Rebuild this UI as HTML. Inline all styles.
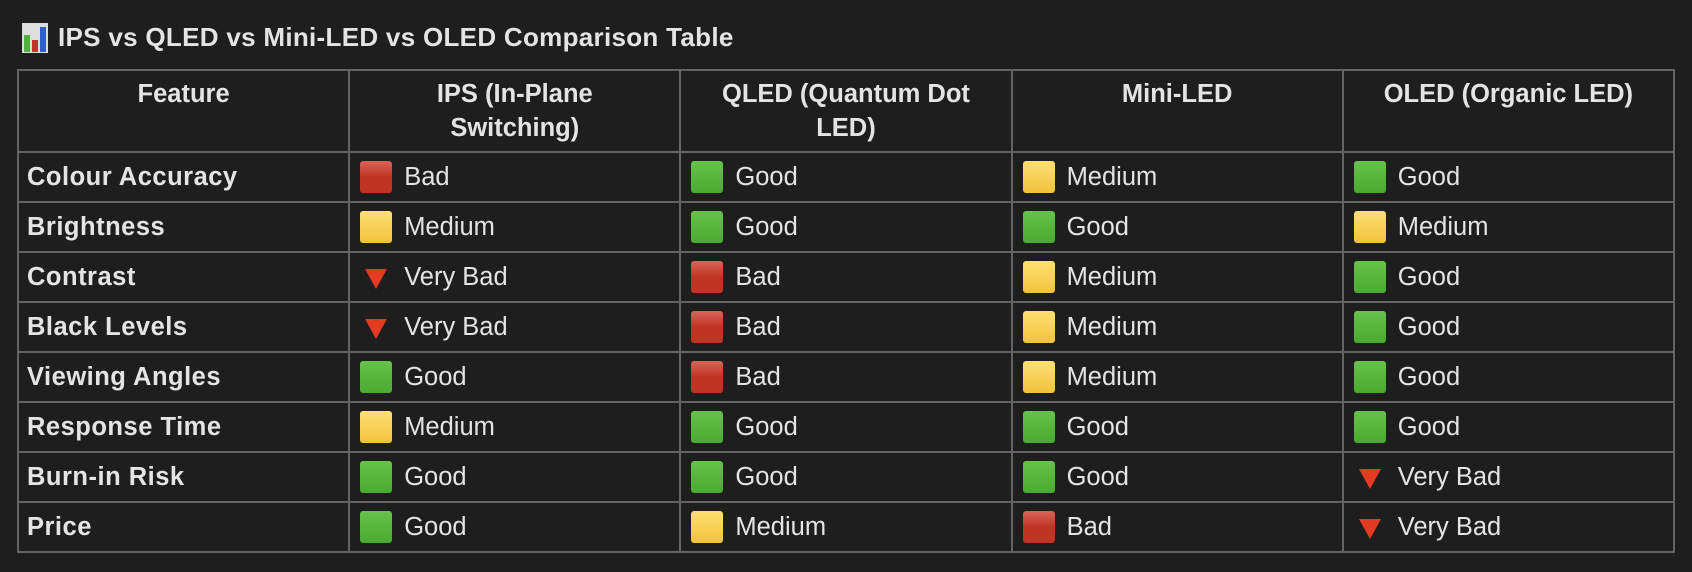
<!DOCTYPE html>
<html><head><style>
body{margin:0;background:#1e1e1e;width:1692px;height:572px;overflow:hidden;font-family:"Liberation Sans",sans-serif;color:#e4e4e4}
.title{position:absolute;left:22px;top:22px;font-size:26px;font-weight:bold;display:flex;align-items:center;letter-spacing:0.3px}
.title svg{margin-right:10px}
table{position:absolute;left:17px;top:69px;border-collapse:collapse;width:1658px;table-layout:fixed}
td,th{border:2px solid #646464;padding:0 10px;font-size:25.5px}
th{height:74px;vertical-align:top;padding-top:6px;line-height:34px;font-weight:bold;text-align:center}
td{height:48px}
td:first-child{font-weight:bold;padding-left:8px;letter-spacing:0.5px}
.c{display:flex;align-items:center}
.s{width:32px;height:32px;border-radius:3px;margin-right:12px;flex:none}
.g{background:linear-gradient(#66c24a,#4aaa30)}
.r{background:linear-gradient(#d86458,#c03424 50%,#c03424)}
.y{background:linear-gradient(#fde072,#f2c23c)}
.t{width:32px;height:32px;margin-right:12px;flex:none}
</style></head><body>
<div class="title"><svg width="26" height="30" viewBox="0 0 26 30"><rect x="0" y="0" width="26" height="30" fill="#ddd"/><rect x="2" y="12" width="6" height="17" fill="#4db33d"/><rect x="10" y="17" width="6" height="12" fill="#c9302c"/><rect x="18" y="4" width="6" height="25" fill="#2f5fc9"/></svg>IPS vs QLED vs Mini-LED vs OLED Comparison Table</div>
<table>
<tr><th>Feature</th><th>IPS (In-Plane<br>Switching)</th><th>QLED (Quantum Dot<br>LED)</th><th>Mini-LED</th><th>OLED (Organic LED)</th></tr>
<tr><td>Colour Accuracy</td><td><div class="c"><span class="s r"></span>Bad</div></td><td><div class="c"><span class="s g"></span>Good</div></td><td><div class="c"><span class="s y"></span>Medium</div></td><td><div class="c"><span class="s g"></span>Good</div></td></tr>
<tr><td>Brightness</td><td><div class="c"><span class="s y"></span>Medium</div></td><td><div class="c"><span class="s g"></span>Good</div></td><td><div class="c"><span class="s g"></span>Good</div></td><td><div class="c"><span class="s y"></span>Medium</div></td></tr>
<tr><td>Contrast</td><td><div class="c"><svg class="t" viewBox="0 0 32 32"><polygon points="5,8 27,8 16,28" fill="#e33a22"/></svg>Very Bad</div></td><td><div class="c"><span class="s r"></span>Bad</div></td><td><div class="c"><span class="s y"></span>Medium</div></td><td><div class="c"><span class="s g"></span>Good</div></td></tr>
<tr><td>Black Levels</td><td><div class="c"><svg class="t" viewBox="0 0 32 32"><polygon points="5,8 27,8 16,28" fill="#e33a22"/></svg>Very Bad</div></td><td><div class="c"><span class="s r"></span>Bad</div></td><td><div class="c"><span class="s y"></span>Medium</div></td><td><div class="c"><span class="s g"></span>Good</div></td></tr>
<tr><td>Viewing Angles</td><td><div class="c"><span class="s g"></span>Good</div></td><td><div class="c"><span class="s r"></span>Bad</div></td><td><div class="c"><span class="s y"></span>Medium</div></td><td><div class="c"><span class="s g"></span>Good</div></td></tr>
<tr><td>Response Time</td><td><div class="c"><span class="s y"></span>Medium</div></td><td><div class="c"><span class="s g"></span>Good</div></td><td><div class="c"><span class="s g"></span>Good</div></td><td><div class="c"><span class="s g"></span>Good</div></td></tr>
<tr><td>Burn-in Risk</td><td><div class="c"><span class="s g"></span>Good</div></td><td><div class="c"><span class="s g"></span>Good</div></td><td><div class="c"><span class="s g"></span>Good</div></td><td><div class="c"><svg class="t" viewBox="0 0 32 32"><polygon points="5,8 27,8 16,28" fill="#e33a22"/></svg>Very Bad</div></td></tr>
<tr><td>Price</td><td><div class="c"><span class="s g"></span>Good</div></td><td><div class="c"><span class="s y"></span>Medium</div></td><td><div class="c"><span class="s r"></span>Bad</div></td><td><div class="c"><svg class="t" viewBox="0 0 32 32"><polygon points="5,8 27,8 16,28" fill="#e33a22"/></svg>Very Bad</div></td></tr>
</table>
</body></html>
